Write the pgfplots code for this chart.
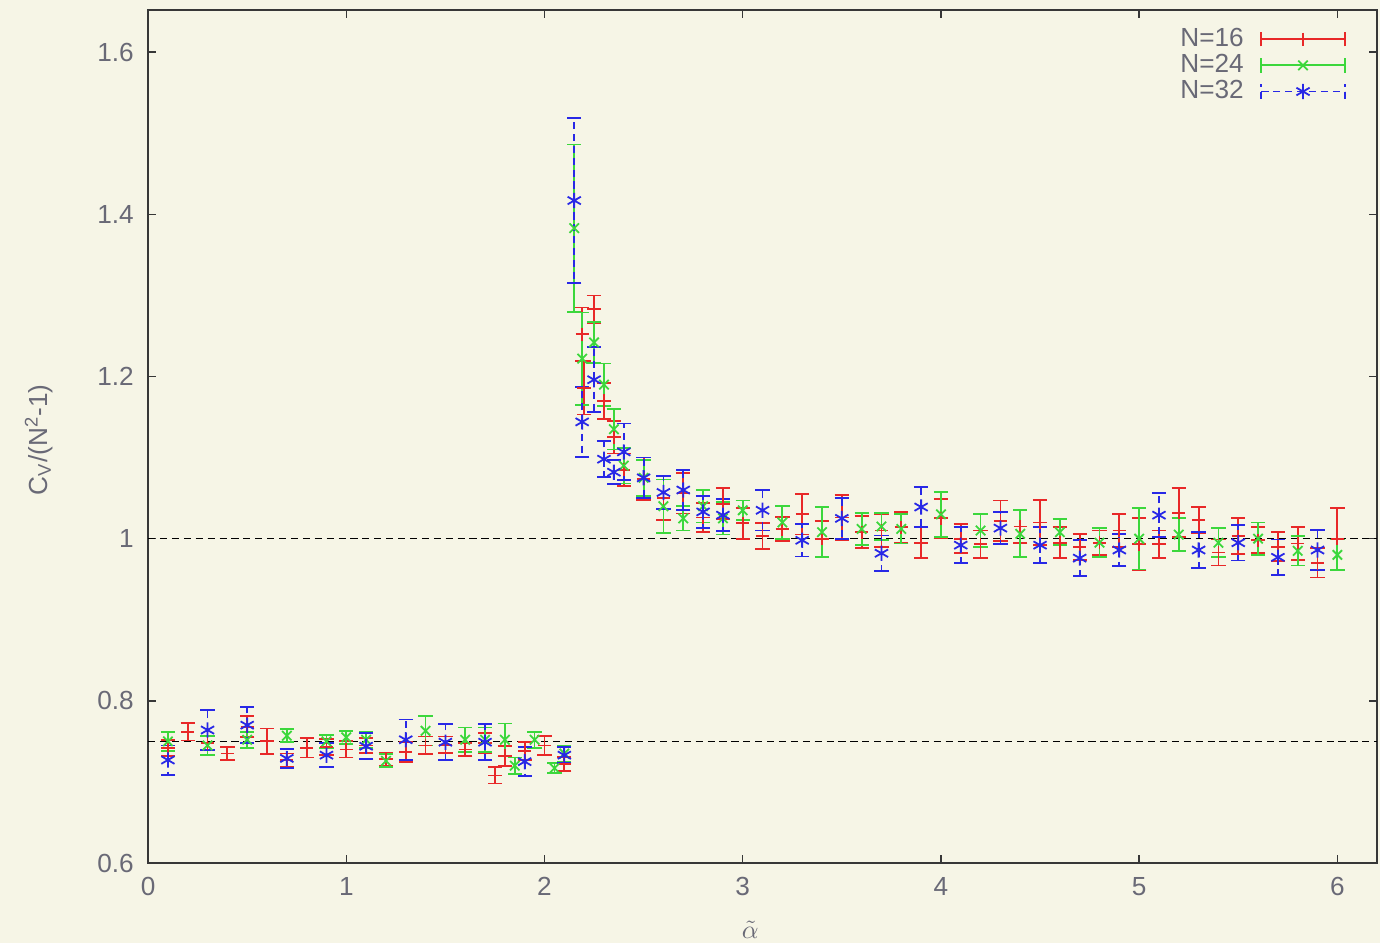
\documentclass[border=0pt]{standalone}
\usepackage{pgfplots}
\pgfplotsset{compat=1.18}
\usepackage{pgfplotstable}
\usepackage{fontspec}
\setmainfont{Liberation Sans}
\usetikzlibrary{backgrounds}

\definecolor{bgcol}{RGB}{246,245,230}
\definecolor{tickgray}{RGB}{105,105,118}
\definecolor{framecol}{RGB}{55,55,55}
\definecolor{cred}{RGB}{232,40,40}
\definecolor{cgreen}{RGB}{60,215,60}
\definecolor{cblue}{RGB}{40,40,230}
\newcommand{\lblfont}{\fontsize{11}{13}\selectfont}

\pgfplotstableread{
x y e
0.1 0.742 0.010
0.2 0.762 0.011
0.3 0.748 0.009
0.4 0.735 0.008
0.5 0.768 0.013
0.6 0.750 0.016
0.7 0.727 0.008
0.8 0.742 0.012
0.9 0.743 0.010
1.0 0.740 0.010
1.1 0.745 0.009
1.2 0.728 0.008
1.3 0.737 0.012
1.4 0.745 0.011
1.5 0.746 0.010
1.6 0.740 0.008
1.7 0.748 0.012
1.75 0.708 0.010
1.8 0.732 0.012
1.9 0.738 0.011
2.0 0.745 0.012
2.1 0.722 0.009
2.19 1.252 0.033
2.2 1.186 0.033
2.25 1.283 0.017
2.3 1.170 0.022
2.35 1.125 0.020
2.4 1.085 0.020
2.5 1.074 0.026
2.6 1.050 0.027
2.7 1.056 0.025
2.8 1.026 0.018
2.9 1.043 0.019
3.0 1.019 0.019
3.1 1.003 0.016
3.2 1.012 0.015
3.3 1.030 0.025
3.4 1.000 0.022
3.5 1.026 0.028
3.6 1.008 0.020
3.7 1.010 0.020
3.8 1.014 0.019
3.9 0.995 0.019
4.0 1.025 0.024
4.1 1.000 0.018
4.2 0.993 0.017
4.3 1.022 0.025
4.4 1.015 0.020
4.5 1.020 0.028
4.6 0.995 0.019
4.7 0.990 0.016
4.8 0.995 0.015
4.9 1.010 0.020
5.0 0.993 0.032
5.1 0.993 0.017
5.2 1.032 0.030
5.3 1.023 0.016
5.4 0.983 0.016
5.5 1.003 0.022
5.6 0.998 0.016
5.7 0.990 0.018
5.8 0.994 0.020
5.9 0.970 0.018
6.0 1.000 0.038
}\dataA

\pgfplotstableread{
x y e
0.1 0.750 0.012
0.3 0.745 0.012
0.5 0.752 0.010
0.7 0.757 0.008
0.9 0.750 0.008
1.0 0.755 0.008
1.1 0.752 0.010
1.2 0.726 0.008
1.4 0.763 0.018
1.6 0.752 0.015
1.7 0.752 0.015
1.8 0.752 0.020
1.85 0.720 0.010
1.95 0.752 0.010
2.05 0.717 0.006
2.1 0.735 0.010
2.15 1.383 0.103
2.19 1.222 0.057
2.25 1.242 0.025
2.3 1.190 0.026
2.35 1.135 0.025
2.4 1.090 0.022
2.5 1.075 0.022
2.6 1.040 0.033
2.7 1.025 0.015
2.8 1.040 0.020
2.9 1.025 0.020
3.0 1.035 0.012
3.2 1.020 0.020
3.4 1.008 0.031
3.6 1.012 0.020
3.7 1.015 0.017
3.8 1.012 0.018
4.0 1.030 0.028
4.2 1.010 0.020
4.4 1.006 0.029
4.6 1.008 0.016
4.8 0.995 0.018
5.0 1.000 0.038
5.2 1.005 0.020
5.4 0.995 0.018
5.6 1.000 0.020
5.8 0.985 0.018
6.0 0.980 0.019
}\dataB

\pgfplotstableread{
x y e
0.1 0.727 0.018
0.3 0.764 0.025
0.5 0.770 0.022
0.7 0.729 0.012
0.9 0.733 0.015
1.1 0.744 0.016
1.3 0.752 0.025
1.5 0.749 0.022
1.7 0.749 0.022
1.9 0.725 0.018
2.1 0.733 0.010
2.15 1.417 0.102
2.19 1.144 0.043
2.25 1.196 0.040
2.3 1.098 0.022
2.35 1.082 0.015
2.4 1.107 0.035
2.5 1.075 0.025
2.6 1.057 0.020
2.7 1.060 0.025
2.8 1.033 0.020
2.9 1.029 0.020
3.1 1.035 0.025
3.3 0.998 0.020
3.5 1.025 0.025
3.7 0.982 0.022
3.9 1.039 0.025
4.1 0.992 0.022
4.3 1.013 0.020
4.5 0.992 0.022
4.7 0.976 0.022
4.9 0.986 0.020
5.1 1.029 0.027
5.3 0.986 0.022
5.5 0.995 0.022
5.7 0.977 0.022
5.9 0.986 0.025
}\dataC

\begin{document}
\begin{tikzpicture}
\begin{axis}[
  scale only axis,
  width=516.2pt, height=358.3pt,
  xmin=0, xmax=6.2, ymin=0.6, ymax=1.652,
  xtick={0,1,2,3,4,5,6},
  ytick={0.6,0.8,1,1.2,1.4,1.6},
  tick align=inside,
  xtick pos=both, ytick pos=both,
  major tick length=3.4pt,
  axis line style={framecol, line width=0.8pt},
  every tick/.style={framecol, line width=0.6pt},
  /pgf/number format/assume math mode=true,
  ticklabel style={font=\lblfont, text=tickgray},
  yticklabel style={xshift=-2.5pt},
  xticklabel style={yshift=-2.5pt},
  xlabel={$\tilde{\alpha}$},
  xlabel style={at={(axis description cs:0.49,0)}, anchor=center, yshift=-28pt, text=tickgray, font=\lblfont},
  ylabel={C\textsubscript{V}/(N\textsuperscript{2}-1)},
  ylabel style={at={(axis description cs:-0.0891,0.496)}, anchor=center, text=tickgray, font=\lblfont},
  legend plot pos=right,
  legend cell align=right,
  legend style={at={(axis description cs:1,1)}, anchor=north east, xshift=-10pt, yshift=-3.5pt,
    draw=none, fill=none, font=\lblfont, text=tickgray, row sep=-2.2pt, column sep=5pt},
  error bars/y dir=both,
  error bars/y explicit,
]
\addplot[black, densely dashed, line width=0.5pt, forget plot] coordinates {(0,1) (6.2,1)};
\addplot[black, densely dashed, line width=0.5pt, forget plot] coordinates {(0,0.75) (6.2,0.75)};

\addplot[cred, only marks, mark=+, mark size=2.8pt, line width=0.75pt,
  error bars/error mark options={cred, rotate=90, mark size=3pt, line width=0.75pt},
  error bars/error bar style={cred, line width=0.75pt},
  legend image code/.code={
    \draw[cred, line width=0.75pt] (0pt,0pt) -- (35pt,0pt);
    \draw[cred, line width=0.75pt] (0pt,-3pt) -- (0pt,3pt) (35pt,-3pt) -- (35pt,3pt);
    \draw[cred, line width=0.75pt, only marks, mark=+, mark size=2.8pt] plot coordinates {(17.5pt,0pt)};
  }]
  table[x=x, y=y, y error=e] {\dataA};
\addlegendentry{N=16}

\addplot[cgreen, only marks, mark=x, mark size=2.8pt, line width=0.75pt,
  error bars/error mark options={cgreen, rotate=90, mark size=3pt, line width=0.75pt},
  error bars/error bar style={cgreen, line width=0.75pt},
  legend image code/.code={
    \draw[cgreen, line width=0.75pt] (0pt,0pt) -- (35pt,0pt);
    \draw[cgreen, line width=0.75pt] (0pt,-3pt) -- (0pt,3pt) (35pt,-3pt) -- (35pt,3pt);
    \draw[cgreen, line width=0.75pt, only marks, mark=x, mark size=2.8pt] plot coordinates {(17.5pt,0pt)};
  }]
  table[x=x, y=y, y error=e] {\dataB};
\addlegendentry{N=24}

\addplot[cblue, only marks, mark=asterisk, mark size=3.2pt, line width=0.75pt,
  error bars/error mark options={cblue, rotate=90, mark size=3pt, line width=0.75pt, solid},
  error bars/error bar style={cblue, line width=0.75pt, densely dashed},
  legend image code/.code={
    \draw[cblue, line width=0.75pt, densely dashed] (0pt,0pt) -- (35pt,0pt);
    \draw[cblue, line width=0.75pt, densely dashed] (0pt,-3pt) -- (0pt,3pt) (35pt,-3pt) -- (35pt,3pt);
    \draw[cblue, line width=0.75pt, only marks, mark=asterisk, mark size=3.2pt] plot coordinates {(17.5pt,0pt)};
  }]
  table[x=x, y=y, y error=e] {\dataC};
\addlegendentry{N=32}
\end{axis}
\begin{scope}[on background layer]
  \fill[bgcol] ([xshift=-62.2pt,yshift=-33.6pt]current axis.south west) rectangle ([xshift=1.26pt,yshift=4.2pt]current axis.north east);
\end{scope}
\end{tikzpicture}
\end{document}
